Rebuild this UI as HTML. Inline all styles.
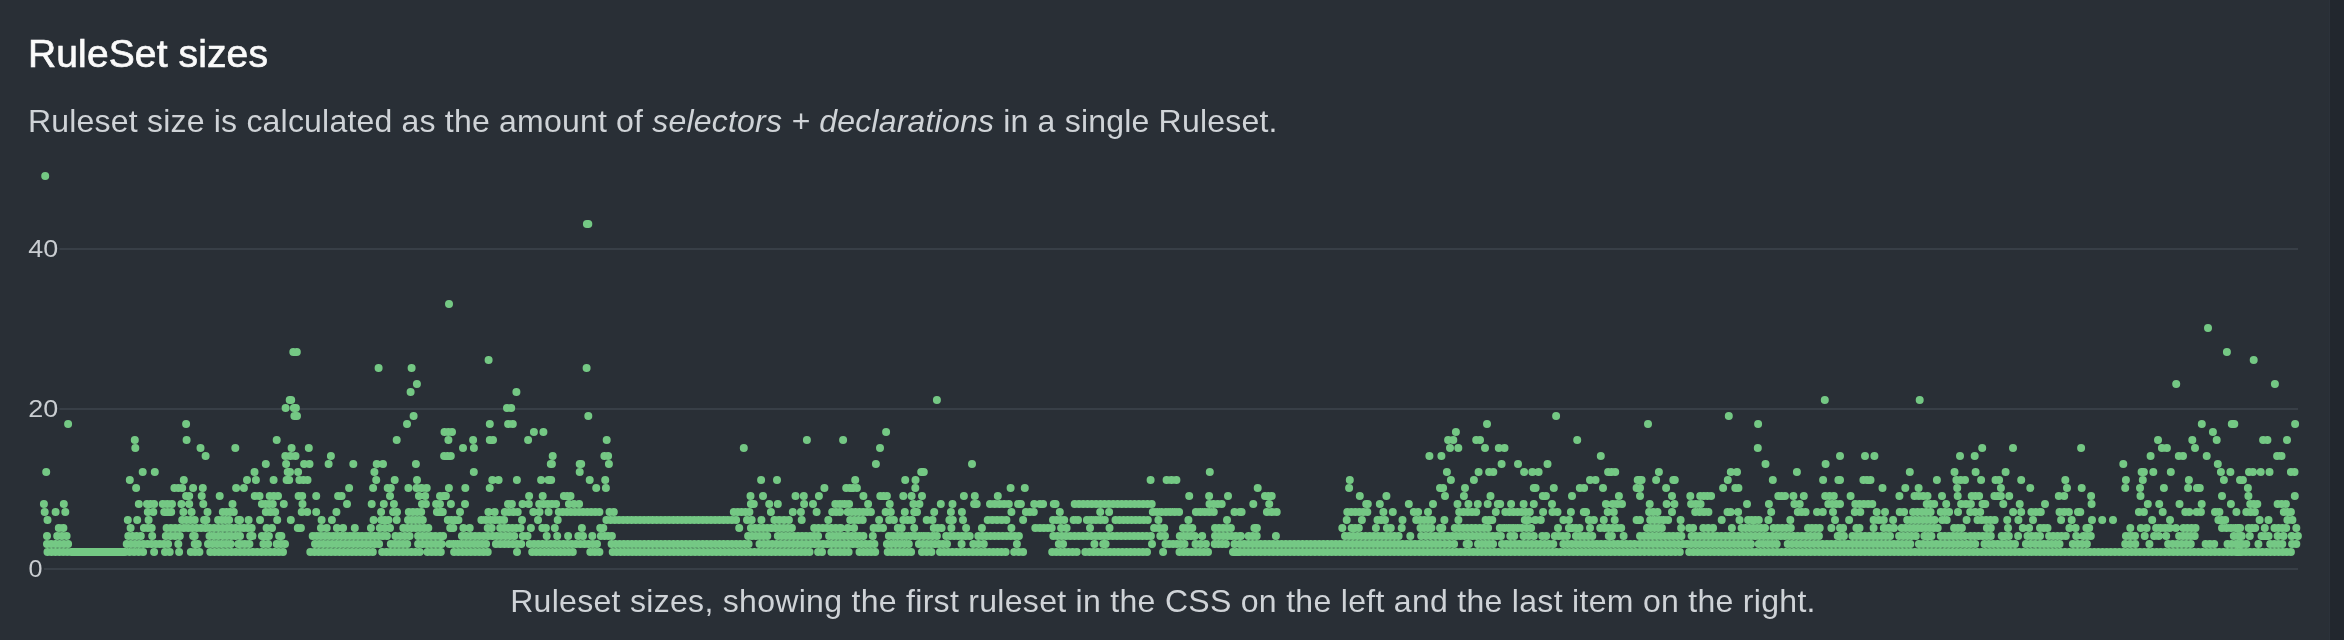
<!DOCTYPE html>
<html><head><meta charset="utf-8"><title>RuleSet sizes</title>
<style>
html,body{margin:0;padding:0;background:#292f36;}
body{width:2344px;height:640px;overflow:hidden;position:relative;font-family:"Liberation Sans",sans-serif;}
h2{position:absolute;left:28px;top:29px;margin:0;font-size:39px;line-height:50px;font-weight:400;color:#fafafa;white-space:nowrap;letter-spacing:0.12px;-webkit-text-stroke:0.7px #fafafa;}
p.desc{position:absolute;left:28px;top:100px;margin:0;font-size:32px;line-height:42px;color:#cfd3d7;white-space:nowrap;letter-spacing:0.2px;}
p.cap{position:absolute;left:28px;width:2270px;top:580px;margin:0;font-size:32px;line-height:42px;color:#cfd3d7;white-space:nowrap;text-align:center;letter-spacing:0.3px;}
svg{position:absolute;left:0;top:0;}
h2,p,svg{will-change:transform;}
.edge{position:absolute;left:2329px;top:0;width:15px;height:640px;background:#22272e;border-left:1px solid #2c323a;box-sizing:border-box;}
svg text{font-family:"Liberation Sans",sans-serif;font-size:24px;fill:#c9cdd1;}
</style></head><body>
<div class="edge"></div>
<h2>RuleSet sizes</h2>
<p class="desc">Ruleset size is calculated as the amount of <i>selectors + declarations</i> in a single Ruleset.</p>
<svg width="2344" height="640" viewBox="0 0 2344 640">
<g fill="#383f47"><rect x="59.5" y="248" width="2238.5" height="2"/><rect x="59.5" y="408" width="2238.5" height="2"/><rect x="44" y="568" width="2254" height="2"/></g>
<text x="28.3" y="256.7" textLength="30" lengthAdjust="spacingAndGlyphs">40</text><text x="28.3" y="416.7" textLength="30" lengthAdjust="spacingAndGlyphs">20</text><text x="28.6" y="576.7" textLength="14" lengthAdjust="spacingAndGlyphs">0</text>
<path fill="none" stroke="#74c884" stroke-width="8" stroke-linecap="round" d="M47.5 552h.01M51.5 552h.01M55.4 552h.01M59.4 552h.01M63.3 552h.01M67.3 552h.01M71.2 552h.01M71.2 552H125.2M125.2 552h.01M129.6 552h.01M134.1 552h.01M138.6 552h.01M143.1 552h.01M154.1 552h.01M165.0 552h.01M169.7 552h.01M179.1 552h.01M190.8 552h.01M195.1 552h.01M199.4 552h.01M210.3 552h.01M214.6 552h.01M218.8 552h.01M223.0 552h.01M227.3 552h.01M231.5 552h.01M235.8 552h.01M240.0 552h.01M47.0 544h.01M51.2 544h.01M55.5 544h.01M59.7 544h.01M63.9 544h.01M68.1 544h.01M126.7 544h.01M130.9 544h.01M135.0 544h.01M139.1 544h.01M143.3 544h.01M147.4 544h.01M151.6 544h.01M155.7 544h.01M159.8 544h.01M164.0 544h.01M168.1 544h.01M178.3 544h.01M194.7 544h.01M197.8 544h.01M208.0 544h.01M212.5 544h.01M217.0 544h.01M221.6 544h.01M226.1 544h.01M230.6 544h.01M238.4 544H240.0M47.0 536h.01M57.2 536h.01M61.9 536h.01M66.6 536h.01M128.3 536h.01M132.4 536h.01M136.6 536h.01M140.8 536h.01M152.2 536h.01M165.8 536h.01M170.5 536h.01M175.2 536h.01M179.8 536h.01M193.1 536H194.7M209.5 536h.01M213.9 536h.01M218.2 536h.01M222.6 536h.01M226.9 536h.01M231.3 536h.01M235.6 536h.01M240.0 536h.01M58.8 528h.01M63.4 528h.01M130.6 528h.01M143.9 528h.01M147.8 528h.01M151.7 528h.01M166.6 528h.01M170.9 528h.01M175.2 528h.01M179.5 528h.01M183.8 528h.01M188.2 528h.01M192.5 528h.01M196.8 528h.01M201.1 528h.01M205.4 528h.01M209.8 528h.01M214.1 528h.01M218.4 528h.01M222.7 528h.01M227.0 528h.01M231.4 528h.01M235.7 528h.01M240.0 528h.01M47.5 520h.01M127.8 520h.01M137.2 520h.01M148.6 520h.01M182.2 520h.01M186.4 520h.01M190.5 520h.01M194.7 520h.01M204.1 520H206.4M218.1 520h.01M221.8 520h.01M225.4 520h.01M229.1 520h.01M238.4 520H240.0M44.7 512h.01M55.6 512h.01M65.3 512h.01M147.8 512h.01M153.3 512h.01M164.2 512h.01M167.7 512h.01M171.2 512h.01M183.4 512h.01M191.6 512h.01M207.5 512h.01M222.8 512h.01M226.5 512h.01M230.1 512h.01M233.8 512h.01M43.9 504h.01M63.8 504h.01M138.8 504h.01M147.0 504h.01M150.5 504h.01M154.1 504h.01M162.7 504h.01M167.3 504h.01M172.0 504h.01M181.4 504h.01M189.2 504h.01M203.3 504h.01M232.5 504h.01M186.1 496h.01M189.2 496h.01M201.7 496h.01M219.7 496h.01M136.1 488h.01M174.4 488h.01M178.3 488h.01M182.2 488h.01M193.1 488h.01M202.8 488h.01M236.1 488h.01M129.8 480h.01M183.8 480h.01M240.0 552h.01M244.3 552h.01M248.6 552h.01M252.9 552h.01M257.2 552h.01M261.5 552h.01M265.8 552h.01M270.1 552h.01M274.4 552h.01M278.7 552h.01M283.0 552h.01M310.3 552h.01M314.5 552h.01M318.6 552h.01M322.8 552h.01M327.0 552h.01M331.1 552h.01M335.3 552h.01M339.5 552h.01M343.6 552h.01M347.8 552h.01M352.0 552h.01M356.1 552h.01M360.3 552h.01M364.5 552h.01M368.6 552h.01M372.8 552h.01M382.2 552h.01M386.4 552h.01M390.5 552h.01M394.7 552h.01M398.9 552h.01M403.0 552h.01M407.2 552h.01M411.4 552h.01M415.5 552h.01M419.7 552h.01M427.5 552h.01M431.7 552h.01M435.8 552h.01M440.0 552h.01M240.0 544h.01M244.7 544h.01M249.4 544h.01M263.4 544h.01M268.1 544h.01M276.7 544h.01M280.9 544h.01M285.0 544h.01M315.0 544h.01M319.3 544h.01M323.5 544h.01M327.8 544h.01M332.1 544h.01M336.4 544h.01M340.6 544h.01M344.9 544h.01M349.2 544h.01M353.4 544h.01M357.7 544h.01M362.0 544h.01M366.2 544h.01M370.5 544h.01M374.8 544h.01M379.1 544h.01M390.8 544h.01M394.9 544h.01M399.0 544h.01M403.1 544h.01M407.2 544h.01M418.1 544h.01M422.5 544h.01M426.9 544h.01M431.2 544h.01M435.6 544h.01M440.0 544h.01M250.2 536H252.5M261.9 536h.01M265.4 536h.01M268.9 536h.01M279.1 536H281.4M312.7 536h.01M316.8 536h.01M320.9 536h.01M325.0 536h.01M329.1 536h.01M333.3 536h.01M337.4 536h.01M341.5 536h.01M345.6 536h.01M349.8 536h.01M353.9 536h.01M358.0 536h.01M362.1 536h.01M366.3 536h.01M370.4 536h.01M374.5 536h.01M378.6 536h.01M382.8 536h.01M386.9 536h.01M395.5 536h.01M400.2 536h.01M404.8 536h.01M409.5 536h.01M418.1 536h.01M422.4 536h.01M426.7 536h.01M431.0 536h.01M435.3 536h.01M440.0 536h.01M240.0 528h.01M243.9 528h.01M247.8 528h.01M251.7 528h.01M266.6 528h.01M272.0 528h.01M297.8 528h.01M300.9 528h.01M320.9 528h.01M326.7 528h.01M336.9 528h.01M343.1 528h.01M354.8 528h.01M370.9 528h.01M379.8 528h.01M384.9 528h.01M390.0 528h.01M403.3 528h.01M407.4 528h.01M411.6 528h.01M415.8 528h.01M419.9 528h.01M424.1 528h.01M428.3 528h.01M240.0 520h.01M248.6 520h.01M260.0 520h.01M277.2 520h.01M290.8 520h.01M321.6 520h.01M331.9 520h.01M373.6 520h.01M381.4 520h.01M384.9 520h.01M388.4 520h.01M396.7 520h.01M408.0 520h.01M411.7 520h.01M415.4 520h.01M419.1 520h.01M422.8 520h.01M265.8 512h.01M270.5 512h.01M275.2 512h.01M301.7 512h.01M307.2 512h.01M316.2 512h.01M336.4 512h.01M381.1 512h.01M393.1 512h.01M397.0 512h.01M408.8 512h.01M412.9 512h.01M417.1 512h.01M421.2 512h.01M436.9 512h.01M440.0 512h.01M261.9 504h.01M265.5 504h.01M269.2 504h.01M272.8 504h.01M283.8 504h.01M302.5 504h.01M347.0 504h.01M371.7 504h.01M383.8 504h.01M393.9 504h.01M422.0 504h.01M425.9 504h.01M436.1 504h.01M440.0 504h.01M254.8 496h.01M259.5 496h.01M269.7 496h.01M273.8 496h.01M278.0 496h.01M298.6 496h.01M302.2 496h.01M316.2 496h.01M338.1 496h.01M341.6 496h.01M390.0 496h.01M418.9 496h.01M425.2 496h.01M440.0 496h.01M243.9 488h.01M349.1 488h.01M373.1 488h.01M387.7 488h.01M390.8 488h.01M408.4 488h.01M416.6 488h.01M421.6 488h.01M426.7 488h.01M247.0 480h.01M255.9 480h.01M273.6 480h.01M286.6 480H289.2M299.4 480h.01M303.4 480h.01M307.5 480h.01M376.2 480h.01M394.7 480h.01M417.0 480h.01M440.0 552H440.8M454.1 552h.01M458.3 552h.01M462.5 552h.01M466.7 552h.01M470.9 552h.01M475.1 552h.01M479.3 552h.01M483.5 552h.01M487.7 552h.01M517.0 552h.01M532.2 552h.01M536.2 552h.01M540.3 552h.01M544.4 552h.01M548.4 552h.01M552.5 552h.01M556.6 552h.01M560.6 552h.01M564.7 552h.01M568.8 552h.01M572.8 552h.01M590.3 552h.01M594.8 552h.01M599.4 552h.01M612.7 552h.01M616.6 552h.01M620.5 552h.01M624.4 552h.01M628.3 552h.01M632.2 552h.01M636.1 552h.01M640.0 552h.01M440.0 544H441.6M449.4 544h.01M453.5 544h.01M457.5 544h.01M461.6 544h.01M465.7 544h.01M469.8 544h.01M473.9 544h.01M477.9 544h.01M482.0 544h.01M486.1 544h.01M495.9 544h.01M500.2 544h.01M504.4 544h.01M508.6 544h.01M512.8 544h.01M517.0 544h.01M521.2 544h.01M529.8 544h.01M534.0 544h.01M538.2 544h.01M542.4 544h.01M546.6 544h.01M550.8 544h.01M555.0 544h.01M559.2 544h.01M563.4 544h.01M567.6 544h.01M571.8 544h.01M576.0 544h.01M580.2 544h.01M584.4 544h.01M588.6 544h.01M592.8 544h.01M597.0 544h.01M611.6 544h.01M615.6 544h.01M619.7 544h.01M623.8 544h.01M627.8 544h.01M631.9 544h.01M635.9 544h.01M640.0 544h.01M440.0 536h.01M443.1 536h.01M461.9 536h.01M466.2 536h.01M470.6 536h.01M475.0 536h.01M479.3 536h.01M483.7 536h.01M488.0 536h.01M492.4 536h.01M496.8 536h.01M501.1 536h.01M505.5 536h.01M509.9 536h.01M514.2 536h.01M522.8 536h.01M527.5 536h.01M546.7 536h.01M557.2 536h.01M568.1 536h.01M578.3 536h.01M583.0 536h.01M592.3 536h.01M600.9 536h.01M604.6 536h.01M608.2 536h.01M611.9 536h.01M450.2 528h.01M453.3 528h.01M463.4 528h.01M469.7 528h.01M487.7 528h.01M491.6 528h.01M500.2 528h.01M504.2 528h.01M508.3 528h.01M512.3 528h.01M516.4 528h.01M520.5 528h.01M530.9 528h.01M542.3 528h.01M545.9 528h.01M554.8 528h.01M581.9 528h.01M600.2 528h.01M603.3 528h.01M447.8 520h.01M451.4 520h.01M454.9 520h.01M458.4 520h.01M481.4 520h.01M485.9 520h.01M490.5 520h.01M495.0 520h.01M499.5 520h.01M504.1 520h.01M522.0 520h.01M538.0 520h.01M557.7 520h.01M606.4 520h.01M610.6 520h.01M614.8 520h.01M619.0 520h.01M623.2 520h.01M627.4 520h.01M631.6 520h.01M635.8 520h.01M640.0 520h.01M440.0 512H442.8M460.0 512h.01M488.4 512h.01M494.7 512h.01M504.8 512h.01M509.1 512h.01M513.4 512h.01M517.7 512h.01M533.3 512h.01M539.5 512h.01M548.6 512h.01M558.8 512h.01M562.8 512h.01M566.9 512h.01M570.9 512h.01M575.0 512h.01M579.1 512h.01M583.1 512h.01M587.2 512h.01M591.2 512h.01M595.3 512h.01M599.4 512h.01M609.5 512h.01M613.8 512h.01M440.0 504h.01M450.9 504h.01M465.0 504h.01M508.0 504h.01M511.9 504h.01M522.5 504h.01M528.8 504h.01M539.2 504h.01M543.4 504h.01M547.7 504h.01M551.9 504h.01M556.1 504h.01M568.9 504h.01M574.0 504h.01M579.1 504h.01M443.1 496H445.9M529.1 496h.01M542.7 496h.01M563.9 496h.01M567.2 496h.01M570.5 496h.01M448.9 488h.01M465.3 488h.01M489.7 488h.01M596.2 488h.01M605.9 488h.01M492.3 480h.01M498.6 480h.01M516.9 480h.01M541.1 480h.01M548.6 480H551.2M589.7 480h.01M605.2 480h.01M640.0 552h.01M644.2 552h.01M648.5 552h.01M652.7 552h.01M657.0 552h.01M661.2 552h.01M665.4 552h.01M669.7 552h.01M673.9 552h.01M678.1 552h.01M682.4 552h.01M686.6 552h.01M690.9 552h.01M695.1 552h.01M699.3 552h.01M703.6 552h.01M707.8 552h.01M712.1 552h.01M716.3 552h.01M720.5 552h.01M724.8 552h.01M729.0 552h.01M733.2 552h.01M737.5 552h.01M741.7 552h.01M746.0 552h.01M750.2 552h.01M754.4 552h.01M758.7 552h.01M762.9 552h.01M767.1 552h.01M771.4 552h.01M775.6 552h.01M779.9 552h.01M784.1 552h.01M788.3 552h.01M792.6 552h.01M796.8 552h.01M801.1 552h.01M805.3 552h.01M809.5 552h.01M818.1 552h.01M822.0 552h.01M831.4 552h.01M835.7 552h.01M840.0 552h.01M640.0 544h.01M644.2 544h.01M648.4 544h.01M652.5 544h.01M656.7 544h.01M660.9 544h.01M665.1 544h.01M669.2 544h.01M673.4 544h.01M677.6 544h.01M681.8 544h.01M685.9 544h.01M690.1 544h.01M694.3 544h.01M698.5 544h.01M702.7 544h.01M706.8 544h.01M711.0 544h.01M715.2 544h.01M719.4 544h.01M723.5 544h.01M727.7 544h.01M731.9 544h.01M736.1 544h.01M740.2 544h.01M744.4 544h.01M748.6 544h.01M759.5 544h.01M763.8 544h.01M768.0 544h.01M772.2 544h.01M776.5 544h.01M780.7 544h.01M784.9 544h.01M789.2 544h.01M793.4 544h.01M797.6 544h.01M801.9 544h.01M806.1 544h.01M810.4 544h.01M814.6 544h.01M818.8 544h.01M823.1 544h.01M827.3 544h.01M831.5 544h.01M835.8 544h.01M840.0 544h.01M748.1 536h.01M752.0 536h.01M755.8 536h.01M759.7 536h.01M763.5 536h.01M767.3 536h.01M777.8 536h.01M781.8 536h.01M785.9 536h.01M789.9 536h.01M793.9 536h.01M798.0 536h.01M802.0 536h.01M806.0 536h.01M810.1 536h.01M814.1 536h.01M818.1 536h.01M829.1 536h.01M832.7 536h.01M836.4 536h.01M840.0 536h.01M739.2 528h.01M750.9 528h.01M755.0 528h.01M759.1 528h.01M763.2 528h.01M767.3 528h.01M771.4 528h.01M775.5 528h.01M779.6 528h.01M783.7 528h.01M787.8 528h.01M791.9 528h.01M814.2 528h.01M818.5 528h.01M822.8 528h.01M827.1 528h.01M831.4 528h.01M835.7 528h.01M840.0 528h.01M640.0 520h.01M644.2 520h.01M648.4 520h.01M652.5 520h.01M656.7 520h.01M660.9 520h.01M665.1 520h.01M669.2 520h.01M673.4 520h.01M677.6 520h.01M681.8 520h.01M686.0 520h.01M690.1 520h.01M694.3 520h.01M698.5 520h.01M702.7 520h.01M706.8 520h.01M711.0 520h.01M715.2 520h.01M719.4 520h.01M723.6 520h.01M727.7 520h.01M731.9 520h.01M736.1 520h.01M747.0 520h.01M751.7 520h.01M761.4 520h.01M774.4 520h.01M779.2 520h.01M784.1 520h.01M788.9 520h.01M801.7 520h.01M828.3 520h.01M733.8 512h.01M737.7 512h.01M741.6 512h.01M745.5 512h.01M749.4 512h.01M770.9 512h.01M792.8 512h.01M800.9 512h.01M816.6 512h.01M832.2 512h.01M836.1 512h.01M840.0 512h.01M750.9 504H753.8M769.2 504h.01M777.8 504h.01M804.1 504h.01M813.0 504h.01M835.3 504h.01M840.0 504h.01M750.5 496h.01M763.0 496h.01M795.5 496h.01M803.8 496h.01M818.9 496h.01M824.4 488h.01M761.1 480h.01M777.0 480h.01M840.0 552h.01M844.3 552h.01M848.6 552h.01M859.5 552h.01M863.4 552h.01M867.3 552h.01M871.2 552h.01M875.2 552h.01M887.7 552h.01M891.6 552h.01M895.5 552h.01M899.4 552h.01M903.3 552h.01M907.2 552h.01M911.1 552h.01M922.0 552h.01M926.7 552h.01M931.4 552h.01M940.0 552h.01M944.1 552h.01M948.2 552h.01M952.3 552h.01M956.4 552h.01M960.5 552h.01M964.6 552h.01M968.7 552h.01M972.8 552h.01M976.9 552h.01M981.0 552h.01M985.1 552h.01M989.2 552h.01M993.3 552h.01M997.4 552h.01M1001.5 552h.01M1005.6 552h.01M1014.2 552h.01M1018.7 552h.01M1023.1 552h.01M840.0 544h.01M844.3 544h.01M848.6 544h.01M852.9 544h.01M857.2 544h.01M861.5 544h.01M865.8 544h.01M870.1 544h.01M874.4 544h.01M886.9 544h.01M891.2 544h.01M895.6 544h.01M900.0 544h.01M904.4 544h.01M908.8 544h.01M918.9 544h.01M922.9 544h.01M926.9 544h.01M931.0 544h.01M935.0 544h.01M939.0 544h.01M943.0 544h.01M947.0 544h.01M961.6 544h.01M973.3 544h.01M978.5 544h.01M983.8 544h.01M1016.9 544h.01M840.0 536h.01M843.9 536h.01M847.8 536h.01M851.7 536h.01M855.6 536h.01M859.5 536h.01M863.4 536h.01M872.8 536h.01M888.9 536h.01M893.3 536h.01M897.6 536h.01M902.0 536h.01M906.3 536h.01M910.7 536h.01M915.1 536h.01M919.4 536h.01M923.8 536h.01M928.2 536h.01M932.5 536h.01M936.9 536h.01M946.2 536h.01M950.2 536h.01M954.1 536h.01M958.0 536h.01M961.9 536h.01M965.8 536h.01M969.7 536h.01M978.3 536h.01M982.3 536h.01M986.4 536h.01M990.5 536h.01M994.5 536h.01M998.6 536h.01M1002.7 536h.01M1006.7 536h.01M1010.8 536h.01M1014.8 536h.01M1018.9 536h.01M840.0 528H840.8M847.8 528h.01M854.1 528h.01M873.6 528h.01M878.3 528h.01M883.0 528h.01M897.8 528h.01M901.7 528h.01M914.2 528h.01M933.8 528h.01M937.7 528h.01M941.6 528h.01M951.4 528h.01M966.1 528h.01M981.9 528h.01M1011.4 528h.01M1035.3 528h.01M1040.0 528h.01M850.2 520h.01M854.3 520h.01M858.5 520h.01M862.7 520h.01M879.1 520h.01M889.2 520h.01M893.9 520h.01M903.3 520h.01M907.6 520h.01M911.9 520h.01M926.7 520h.01M932.5 520h.01M949.4 520h.01M952.8 520h.01M963.0 520h.01M987.7 520h.01M992.3 520h.01M997.0 520h.01M1001.7 520h.01M1006.4 520h.01M1023.1 520h.01M840.0 512h.01M847.8 512h.01M851.7 512h.01M855.5 512h.01M859.4 512h.01M863.2 512h.01M867.1 512h.01M870.9 512h.01M885.6 512h.01M890.8 512h.01M904.8 512h.01M914.2 512H917.0M934.2 512h.01M950.9 512h.01M961.9 512h.01M1011.4 512h.01M1025.9 512h.01M1029.8 512h.01M1033.8 512h.01M840.0 504h.01M844.5 504h.01M849.1 504h.01M868.1 504h.01M889.7 504h.01M913.4 504h.01M919.4 504h.01M940.8 504h.01M952.5 504h.01M974.1 504H976.7M990.0 504h.01M994.7 504h.01M999.4 504h.01M1004.1 504h.01M1008.8 504h.01M1018.1 504H1020.9M1034.2 504h.01M1040.0 504h.01M863.4 496h.01M880.3 496h.01M883.6 496h.01M886.9 496h.01M903.3 496h.01M911.6 496h.01M922.0 496h.01M963.9 496h.01M974.8 496h.01M997.8 496h.01M846.2 488h.01M849.8 488h.01M853.3 488h.01M856.9 488h.01M915.3 488h.01M1010.6 488h.01M1024.8 488h.01M855.2 480h.01M905.2 480h.01M915.5 480h.01M1052.2 552h.01M1056.3 552h.01M1060.4 552h.01M1064.5 552h.01M1068.5 552h.01M1072.6 552h.01M1076.7 552h.01M1085.3 552h.01M1089.4 552h.01M1093.5 552h.01M1097.7 552h.01M1101.8 552h.01M1105.9 552h.01M1110.0 552h.01M1114.1 552h.01M1118.2 552h.01M1122.3 552h.01M1126.5 552h.01M1130.6 552h.01M1134.7 552h.01M1138.8 552h.01M1142.9 552h.01M1147.0 552h.01M1163.1 552h.01M1179.5 552h.01M1183.6 552h.01M1187.7 552h.01M1191.7 552h.01M1195.8 552h.01M1199.8 552h.01M1203.9 552h.01M1208.0 552h.01M1233.0 552h.01M1236.5 552h.01M1240.0 552h.01M1058.8 544h.01M1063.1 544h.01M1094.4 544h.01M1103.3 544H1105.6M1152.0 544h.01M1165.5 544h.01M1169.3 544h.01M1173.1 544h.01M1176.9 544h.01M1180.7 544h.01M1184.5 544h.01M1195.5 544h.01M1200.7 544h.01M1205.9 544h.01M1214.7 544h.01M1218.4 544h.01M1222.2 544h.01M1225.9 544h.01M1234.5 544h.01M1240.0 544h.01M1053.3 536h.01M1057.5 536h.01M1061.8 536h.01M1066.0 536h.01M1070.3 536h.01M1074.5 536h.01M1078.8 536h.01M1083.0 536h.01M1087.2 536h.01M1091.5 536h.01M1095.7 536h.01M1100.0 536h.01M1104.2 536h.01M1108.5 536h.01M1112.7 536h.01M1117.0 536h.01M1121.2 536h.01M1125.5 536h.01M1129.7 536h.01M1134.0 536h.01M1138.2 536h.01M1142.4 536h.01M1146.7 536h.01M1150.9 536h.01M1160.3 536h.01M1165.0 536h.01M1179.8 536h.01M1183.6 536h.01M1187.3 536h.01M1191.0 536h.01M1194.7 536h.01M1202.2 536h.01M1215.0 536h.01M1219.2 536h.01M1223.3 536h.01M1227.5 536h.01M1231.7 536h.01M1235.8 536h.01M1240.0 536h.01M1040.0 528h.01M1043.9 528h.01M1047.8 528h.01M1051.7 528h.01M1061.1 528h.01M1066.6 528h.01M1090.0 528h.01M1109.5 528h.01M1154.1 528h.01M1159.1 528h.01M1164.2 528h.01M1183.0 528h.01M1187.7 528h.01M1192.3 528h.01M1215.0 528h.01M1219.0 528h.01M1223.0 528h.01M1227.0 528h.01M1230.9 528h.01M1053.0 520h.01M1056.7 520h.01M1060.5 520h.01M1064.2 520h.01M1073.6 520h.01M1078.0 520h.01M1086.9 520h.01M1091.4 520h.01M1095.9 520h.01M1100.4 520h.01M1104.8 520h.01M1115.5 520h.01M1119.5 520h.01M1123.6 520h.01M1127.6 520h.01M1131.6 520h.01M1135.7 520h.01M1139.7 520h.01M1143.8 520h.01M1147.8 520h.01M1158.4 520h.01M1188.4 520h.01M1227.0 520h.01M1059.8 512h.01M1100.2 512h.01M1109.1 512h.01M1152.8 512h.01M1157.2 512h.01M1161.6 512h.01M1165.9 512h.01M1170.3 512h.01M1174.7 512h.01M1179.1 512h.01M1195.9 512h.01M1200.4 512h.01M1204.8 512h.01M1209.3 512h.01M1213.8 512h.01M1234.5 512h.01M1240.0 512h.01M1043.1 504h.01M1053.8 504H1055.6M1074.7 504h.01M1079.0 504h.01M1083.2 504h.01M1087.5 504h.01M1091.8 504h.01M1096.1 504h.01M1100.4 504h.01M1104.6 504h.01M1108.9 504h.01M1113.2 504h.01M1117.5 504h.01M1121.8 504h.01M1126.0 504h.01M1130.3 504h.01M1134.6 504h.01M1138.9 504h.01M1143.2 504h.01M1147.4 504h.01M1151.7 504h.01M1209.5 504h.01M1213.6 504h.01M1217.7 504h.01M1221.7 504h.01M1189.2 496h.01M1209.1 496h.01M1228.0 496h.01M1150.6 480h.01M1166.6 480h.01M1171.5 480h.01M1176.4 480h.01M1240.0 552h.01M1244.2 552h.01M1248.3 552h.01M1252.5 552h.01M1256.7 552h.01M1260.8 552h.01M1265.0 552h.01M1269.2 552h.01M1273.3 552h.01M1277.5 552h.01M1281.7 552h.01M1285.8 552h.01M1290.0 552h.01M1294.2 552h.01M1298.3 552h.01M1302.5 552h.01M1306.7 552h.01M1310.8 552h.01M1315.0 552h.01M1319.2 552h.01M1323.3 552h.01M1327.5 552h.01M1331.7 552h.01M1335.8 552h.01M1340.0 552h.01M1344.2 552h.01M1348.3 552h.01M1352.5 552h.01M1356.7 552h.01M1360.8 552h.01M1365.0 552h.01M1369.2 552h.01M1373.3 552h.01M1377.5 552h.01M1381.7 552h.01M1385.8 552h.01M1390.0 552h.01M1394.2 552h.01M1398.3 552h.01M1402.5 552h.01M1406.7 552h.01M1410.8 552h.01M1415.0 552h.01M1419.2 552h.01M1423.3 552h.01M1427.5 552h.01M1431.7 552h.01M1435.8 552h.01M1440.0 552h.01M1240.0 544h.01M1244.2 544h.01M1248.3 544h.01M1252.5 544h.01M1256.7 544h.01M1260.8 544h.01M1265.0 544h.01M1269.2 544h.01M1273.3 544h.01M1277.5 544h.01M1281.7 544h.01M1285.8 544h.01M1290.0 544h.01M1294.2 544h.01M1298.3 544h.01M1302.5 544h.01M1306.7 544h.01M1310.8 544h.01M1315.0 544h.01M1319.2 544h.01M1323.3 544h.01M1327.5 544h.01M1331.7 544h.01M1335.8 544h.01M1340.0 544h.01M1344.2 544h.01M1348.3 544h.01M1352.5 544h.01M1356.7 544h.01M1360.8 544h.01M1365.0 544h.01M1369.2 544h.01M1373.3 544h.01M1377.5 544h.01M1381.7 544h.01M1385.8 544h.01M1390.0 544h.01M1394.2 544h.01M1398.3 544h.01M1402.5 544h.01M1406.7 544h.01M1410.8 544h.01M1415.0 544h.01M1419.2 544h.01M1423.3 544h.01M1427.5 544h.01M1431.7 544h.01M1435.8 544h.01M1440.0 544h.01M1240.0 536H1240.8M1248.6 536h.01M1252.7 536h.01M1256.7 536h.01M1275.9 536h.01M1345.0 536h.01M1349.1 536h.01M1353.2 536h.01M1357.4 536h.01M1361.5 536h.01M1365.6 536h.01M1369.7 536h.01M1373.9 536h.01M1378.0 536h.01M1382.1 536h.01M1386.2 536h.01M1390.3 536h.01M1394.5 536h.01M1398.6 536h.01M1410.3 536h.01M1421.2 536h.01M1425.9 536h.01M1430.6 536h.01M1435.3 536h.01M1440.0 536h.01M1254.4 528H1256.9M1342.3 528h.01M1351.7 528h.01M1355.2 528h.01M1358.8 528h.01M1375.9 528h.01M1386.9 528h.01M1390.8 528h.01M1401.7 528h.01M1420.5 528h.01M1424.1 528h.01M1427.8 528h.01M1431.4 528h.01M1440.0 528h.01M1346.7 520h.01M1361.9 520h.01M1377.5 520h.01M1381.2 520h.01M1385.0 520h.01M1402.5 520h.01M1416.2 520h.01M1420.2 520h.01M1424.2 520h.01M1428.2 520h.01M1432.2 520h.01M1241.6 512h.01M1266.9 512h.01M1271.8 512h.01M1276.7 512h.01M1347.3 512h.01M1351.3 512h.01M1355.3 512h.01M1359.3 512h.01M1363.3 512h.01M1367.3 512h.01M1383.4 512h.01M1392.8 512h.01M1413.8 512h.01M1418.1 512h.01M1428.0 512h.01M1253.3 504h.01M1269.2 504h.01M1366.2 504H1367.8M1379.8 504h.01M1408.8 504h.01M1433.0 504h.01M1265.0 496h.01M1268.4 496h.01M1271.7 496h.01M1359.8 496h.01M1386.4 496h.01M1257.7 488h.01M1349.1 488h.01M1440.0 488h.01M1349.8 480h.01M1440.0 552h.01M1444.2 552h.01M1448.3 552h.01M1452.5 552h.01M1456.7 552h.01M1460.8 552h.01M1465.0 552h.01M1469.2 552h.01M1473.3 552h.01M1477.5 552h.01M1481.7 552h.01M1485.8 552h.01M1490.0 552h.01M1494.2 552h.01M1498.3 552h.01M1502.5 552h.01M1506.7 552h.01M1510.8 552h.01M1515.0 552h.01M1519.2 552h.01M1523.3 552h.01M1527.5 552h.01M1531.7 552h.01M1535.8 552h.01M1540.0 552h.01M1544.2 552h.01M1548.3 552h.01M1552.5 552h.01M1556.7 552h.01M1560.8 552h.01M1565.0 552h.01M1569.2 552h.01M1573.3 552h.01M1577.5 552h.01M1581.7 552h.01M1585.8 552h.01M1590.0 552h.01M1594.2 552h.01M1598.3 552h.01M1602.5 552h.01M1606.7 552h.01M1610.8 552h.01M1615.0 552h.01M1619.2 552h.01M1623.3 552h.01M1627.5 552h.01M1631.7 552h.01M1635.8 552h.01M1640.0 552h.01M1440.0 544h.01M1444.7 544h.01M1449.4 544h.01M1454.1 544h.01M1466.6 544H1468.9M1478.0 544h.01M1481.8 544h.01M1485.5 544h.01M1489.3 544h.01M1493.1 544h.01M1502.0 544h.01M1506.3 544h.01M1510.6 544h.01M1514.8 544h.01M1519.1 544h.01M1523.4 544h.01M1527.7 544h.01M1531.9 544h.01M1536.2 544h.01M1540.5 544h.01M1544.7 544h.01M1549.0 544h.01M1553.3 544h.01M1563.4 544h.01M1567.6 544h.01M1571.8 544h.01M1576.0 544h.01M1580.2 544h.01M1584.3 544h.01M1588.5 544h.01M1592.7 544h.01M1596.9 544h.01M1601.1 544h.01M1605.3 544h.01M1609.4 544h.01M1613.6 544h.01M1617.8 544h.01M1622.0 544h.01M1626.2 544h.01M1630.3 544h.01M1634.5 544h.01M1440.0 536h.01M1444.1 536h.01M1448.1 536h.01M1452.2 536h.01M1456.2 536h.01M1460.3 536h.01M1464.4 536h.01M1468.4 536h.01M1472.5 536h.01M1476.6 536h.01M1480.6 536h.01M1484.7 536h.01M1488.8 536h.01M1492.8 536h.01M1496.9 536h.01M1500.9 536h.01M1510.3 536h.01M1514.2 536h.01M1523.6 536h.01M1528.7 536h.01M1533.8 536h.01M1542.3 536h.01M1546.2 536h.01M1554.8 536h.01M1558.9 536h.01M1562.9 536h.01M1566.9 536h.01M1575.9 536h.01M1580.0 536h.01M1584.1 536h.01M1588.2 536h.01M1592.3 536h.01M1608.8 536h.01M1611.9 536h.01M1623.6 536h.01M1640.0 536h.01M1440.0 528H1442.3M1454.8 528h.01M1459.0 528h.01M1463.2 528h.01M1467.3 528h.01M1471.5 528h.01M1475.6 528h.01M1479.8 528h.01M1484.0 528h.01M1488.1 528h.01M1499.8 528h.01M1504.3 528h.01M1508.8 528h.01M1513.2 528h.01M1517.7 528h.01M1522.2 528h.01M1526.6 528h.01M1531.1 528h.01M1558.0 528h.01M1568.9 528h.01M1572.4 528h.01M1576.0 528h.01M1579.5 528h.01M1590.0 528h.01M1600.2 528h.01M1604.4 528h.01M1608.6 528h.01M1612.8 528h.01M1617.0 528h.01M1621.2 528h.01M1444.4 520h.01M1458.4 520h.01M1485.6 520h.01M1489.0 520h.01M1492.3 520h.01M1524.8 520h.01M1528.3 520h.01M1535.3 520h.01M1540.8 520h.01M1563.4 520h.01M1568.9 520h.01M1588.9 520h.01M1593.9 520h.01M1603.8 520h.01M1614.7 520h.01M1636.6 520h.01M1640.0 520h.01M1459.2 512h.01M1463.5 512h.01M1467.7 512h.01M1472.0 512h.01M1476.2 512h.01M1495.8 512h.01M1505.3 512h.01M1509.4 512h.01M1513.5 512h.01M1517.6 512h.01M1521.7 512h.01M1525.8 512h.01M1529.8 512h.01M1543.1 512h.01M1552.5 512h.01M1557.5 512h.01M1570.9 512h.01M1583.8 512H1586.1M1607.7 512h.01M1613.8 512h.01M1457.5 504h.01M1468.4 504h.01M1477.8 504h.01M1487.7 504h.01M1497.8 504H1500.2M1511.1 504h.01M1523.6 504h.01M1533.8 504h.01M1552.0 504h.01M1605.9 504h.01M1612.7 504h.01M1617.3 504h.01M1622.0 504h.01M1445.0 496h.01M1463.9 496h.01M1490.5 496h.01M1542.8 496h.01M1545.9 496h.01M1572.0 496h.01M1618.9 496h.01M1640.0 496h.01M1440.0 488h.01M1443.1 488h.01M1465.0 488h.01M1533.8 488H1535.6M1553.8 488h.01M1579.8 488h.01M1584.1 488h.01M1603.0 488h.01M1636.6 488h.01M1640.0 488h.01M1450.9 480h.01M1473.9 480h.01M1590.0 480h.01M1595.5 480h.01M1637.7 480H1640.0M1640.0 552h.01M1644.4 552h.01M1648.9 552h.01M1653.3 552h.01M1657.7 552h.01M1662.1 552h.01M1666.6 552h.01M1671.0 552h.01M1675.4 552h.01M1679.8 552h.01M1689.2 552h.01M1693.4 552h.01M1697.6 552h.01M1701.8 552h.01M1706.0 552h.01M1710.2 552h.01M1714.3 552h.01M1718.5 552h.01M1722.7 552h.01M1726.9 552h.01M1731.1 552h.01M1735.3 552h.01M1739.5 552h.01M1743.7 552h.01M1747.9 552h.01M1752.0 552h.01M1756.2 552h.01M1760.4 552h.01M1764.6 552h.01M1768.8 552h.01M1773.0 552h.01M1777.2 552h.01M1781.4 552h.01M1785.6 552h.01M1789.7 552h.01M1793.9 552h.01M1798.1 552h.01M1802.3 552h.01M1806.5 552h.01M1810.7 552h.01M1814.9 552h.01M1819.1 552h.01M1823.2 552h.01M1827.4 552h.01M1831.6 552h.01M1835.8 552h.01M1840.0 552h.01M1640.0 544h.01M1644.3 544h.01M1648.5 544h.01M1652.8 544h.01M1657.1 544h.01M1661.3 544h.01M1665.6 544h.01M1669.9 544h.01M1674.1 544h.01M1678.4 544h.01M1682.7 544h.01M1686.9 544h.01M1691.2 544h.01M1695.5 544h.01M1699.7 544h.01M1704.0 544h.01M1708.3 544h.01M1712.5 544h.01M1716.8 544h.01M1721.1 544h.01M1725.3 544h.01M1729.6 544h.01M1733.9 544h.01M1738.1 544h.01M1742.4 544h.01M1746.7 544h.01M1750.9 544h.01M1758.8 544h.01M1763.2 544h.01M1767.7 544h.01M1772.2 544h.01M1776.7 544h.01M1787.7 544h.01M1792.0 544h.01M1796.4 544h.01M1800.7 544h.01M1805.1 544h.01M1809.5 544h.01M1813.8 544h.01M1818.2 544h.01M1822.6 544h.01M1826.9 544h.01M1831.3 544h.01M1835.6 544h.01M1840.0 544h.01M1640.0 536h.01M1644.1 536h.01M1648.3 536h.01M1652.4 536h.01M1656.6 536h.01M1660.7 536h.01M1664.8 536h.01M1669.0 536h.01M1673.1 536h.01M1677.3 536h.01M1681.4 536h.01M1691.6 536h.01M1695.8 536h.01M1700.1 536h.01M1704.3 536h.01M1708.5 536h.01M1712.8 536h.01M1717.0 536h.01M1721.3 536h.01M1725.5 536h.01M1729.8 536h.01M1734.0 536h.01M1738.3 536h.01M1742.5 536h.01M1746.7 536h.01M1751.0 536h.01M1755.2 536h.01M1759.5 536h.01M1763.7 536h.01M1768.0 536h.01M1772.2 536h.01M1776.5 536h.01M1780.7 536h.01M1784.9 536h.01M1789.2 536h.01M1793.4 536h.01M1797.7 536h.01M1801.9 536h.01M1806.2 536h.01M1810.4 536h.01M1814.7 536h.01M1818.9 536h.01M1837.7 536H1840.0M1647.0 528h.01M1650.7 528h.01M1654.5 528h.01M1658.2 528h.01M1661.9 528h.01M1681.1 528h.01M1689.2 528h.01M1693.1 528h.01M1703.3 528h.01M1708.2 528h.01M1713.1 528h.01M1731.9 528h.01M1741.6 528h.01M1745.5 528h.01M1749.4 528h.01M1753.3 528h.01M1757.2 528h.01M1761.1 528h.01M1765.0 528h.01M1773.6 528h.01M1777.9 528h.01M1782.2 528h.01M1786.5 528h.01M1790.8 528h.01M1808.0 528h.01M1811.9 528h.01M1815.8 528h.01M1819.7 528h.01M1831.4 528h.01M1840.0 528h.01M1640.0 520h.01M1650.2 520h.01M1654.6 520h.01M1659.1 520h.01M1663.6 520h.01M1668.1 520h.01M1680.6 520h.01M1721.7 520h.01M1739.5 520h.01M1748.1 520h.01M1751.7 520h.01M1755.2 520h.01M1758.8 520h.01M1768.4 520h.01M1790.3 520h.01M1835.0 520h.01M1649.1 512h.01M1653.3 512h.01M1657.5 512h.01M1672.0 512h.01M1695.2 512h.01M1699.6 512h.01M1704.0 512h.01M1708.4 512h.01M1727.5 512h.01M1730.6 512h.01M1738.1 512h.01M1771.2 512h.01M1797.8 512h.01M1801.7 512h.01M1805.6 512h.01M1817.0 512h.01M1822.8 512h.01M1833.0 512h.01M1649.7 504h.01M1666.6 504h.01M1674.4 504h.01M1691.1 504h.01M1695.9 504h.01M1700.6 504h.01M1747.0 504h.01M1768.9 504h.01M1794.4 504h.01M1799.7 504h.01M1828.3 504h.01M1832.2 504h.01M1836.1 504h.01M1840.0 504h.01M1640.0 496h.01M1672.0 496h.01M1690.3 496h.01M1700.2 496h.01M1703.8 496h.01M1707.4 496h.01M1711.1 496h.01M1778.3 496h.01M1781.6 496h.01M1785.0 496h.01M1793.4 496h.01M1803.8 496h.01M1825.2 496h.01M1829.5 496h.01M1833.8 496h.01M1640.0 488h.01M1666.1 488h.01M1723.1 488h.01M1735.3 488h.01M1738.4 488h.01M1641.6 480h.01M1656.1 480h.01M1673.3 480H1674.8M1727.8 480h.01M1772.8 480h.01M1823.1 480h.01M1838.4 480h.01M1840.0 552h.01M1844.2 552h.01M1848.3 552h.01M1852.5 552h.01M1856.7 552h.01M1860.8 552h.01M1865.0 552h.01M1869.2 552h.01M1873.3 552h.01M1877.5 552h.01M1881.7 552h.01M1885.8 552h.01M1890.0 552h.01M1894.2 552h.01M1898.3 552h.01M1902.5 552h.01M1906.7 552h.01M1910.8 552h.01M1915.0 552h.01M1919.2 552h.01M1923.3 552h.01M1927.5 552h.01M1931.7 552h.01M1935.8 552h.01M1940.0 552h.01M1944.2 552h.01M1948.3 552h.01M1952.5 552h.01M1956.7 552h.01M1960.8 552h.01M1965.0 552h.01M1969.2 552h.01M1973.3 552h.01M1977.5 552h.01M1981.7 552h.01M1985.8 552h.01M1990.0 552h.01M1994.2 552h.01M1998.3 552h.01M2002.5 552h.01M2006.7 552h.01M2010.8 552h.01M2015.0 552h.01M2019.2 552h.01M2023.3 552h.01M2027.5 552h.01M2031.7 552h.01M2035.8 552h.01M2040.0 552h.01M1840.0 544h.01M1844.1 544h.01M1848.3 544h.01M1852.4 544h.01M1856.5 544h.01M1860.7 544h.01M1864.8 544h.01M1869.0 544h.01M1873.1 544h.01M1877.2 544h.01M1881.4 544h.01M1885.5 544h.01M1889.6 544h.01M1893.8 544h.01M1897.9 544h.01M1902.0 544h.01M1906.2 544h.01M1910.3 544h.01M1918.9 544h.01M1923.2 544h.01M1927.6 544h.01M1931.9 544h.01M1936.2 544h.01M1940.5 544h.01M1944.9 544h.01M1949.2 544h.01M1953.5 544h.01M1957.8 544h.01M1962.2 544h.01M1966.5 544h.01M1970.8 544h.01M1975.2 544h.01M1984.5 544h.01M1988.9 544h.01M1993.2 544h.01M1997.6 544h.01M2001.9 544h.01M2006.3 544h.01M2010.6 544h.01M2015.0 544h.01M2025.9 544h.01M2030.6 544h.01M2035.3 544h.01M2040.0 544h.01M1840.0 536h.01M1843.9 536h.01M1852.5 536h.01M1856.7 536h.01M1860.8 536h.01M1865.0 536h.01M1869.2 536h.01M1873.3 536h.01M1877.5 536h.01M1881.7 536h.01M1885.8 536h.01M1890.0 536h.01M1899.1 536h.01M1903.2 536h.01M1907.4 536h.01M1911.6 536h.01M1915.8 536h.01M1924.4 536h.01M1927.9 536h.01M1931.4 536h.01M1940.8 536h.01M1944.8 536h.01M1948.9 536h.01M1952.9 536h.01M1956.9 536h.01M1961.0 536h.01M1965.0 536h.01M1970.5 536h.01M1974.5 536h.01M1978.6 536h.01M1982.7 536h.01M1986.7 536h.01M1990.8 536h.01M2001.7 536h.01M2005.2 536h.01M2008.8 536h.01M2018.1 536h.01M2027.5 536h.01M2031.7 536h.01M2035.8 536h.01M2040.0 536h.01M1840.0 528h.01M1843.1 528h.01M1856.4 528h.01M1859.5 528h.01M1873.6 528h.01M1883.8 528h.01M1888.8 528h.01M1893.9 528h.01M1901.7 528h.01M1905.7 528h.01M1909.7 528h.01M1913.7 528h.01M1917.7 528h.01M1921.7 528h.01M1925.7 528h.01M1929.7 528h.01M1933.7 528h.01M1937.7 528h.01M1954.1 528h.01M1958.0 528h.01M1961.9 528h.01M1986.9 528h.01M1990.8 528h.01M2008.0 528h.01M2022.8 528h.01M2029.1 528h.01M2040.0 528h.01M1849.1 520h.01M1873.6 520h.01M1878.7 520h.01M1883.8 520h.01M1893.1 520h.01M1907.2 520h.01M1911.1 520h.01M1915.0 520h.01M1918.9 520h.01M1922.8 520h.01M1926.7 520h.01M1930.6 520h.01M1934.5 520h.01M1942.3 520h.01M1946.7 520h.01M1966.6 520h.01M1977.5 520h.01M1981.8 520h.01M1986.1 520h.01M1990.4 520h.01M1994.7 520h.01M2007.2 520h.01M2018.4 520h.01M2033.0 520h.01M1854.8 512h.01M1860.3 512h.01M1876.7 512h.01M1885.0 512h.01M1899.7 512h.01M1904.1 512h.01M1913.1 512h.01M1917.5 512h.01M1921.9 512h.01M1926.2 512h.01M1930.6 512h.01M1940.8 512h.01M1944.9 512h.01M1949.1 512h.01M1958.0 512h.01M1970.2 512h.01M1975.2 512h.01M1980.2 512h.01M2013.1 512h.01M2021.2 512h.01M2031.4 512h.01M2035.7 512h.01M2040.0 512h.01M1840.0 504h.01M1855.3 504h.01M1859.6 504h.01M1863.8 504h.01M1868.1 504h.01M1872.3 504h.01M1926.7 504h.01M1930.5 504h.01M1934.2 504h.01M1946.2 504h.01M1961.1 504h.01M1966.0 504h.01M1970.9 504h.01M1982.5 504H1985.3M2003.3 504h.01M2019.7 504h.01M1850.6 496h.01M1899.4 496h.01M1914.5 496h.01M1918.9 496h.01M1923.2 496h.01M1927.5 496h.01M1942.0 496h.01M1957.7 496h.01M1971.7 496h.01M1975.4 496h.01M1979.1 496h.01M1994.4 496h.01M1997.7 496h.01M2000.9 496h.01M2009.2 496h.01M1882.5 488h.01M1905.3 488h.01M1918.6 488h.01M1957.2 488h.01M2000.9 488h.01M2030.3 488h.01M1840.0 480h.01M1863.4 480h.01M1867.0 480h.01M1870.5 480h.01M1936.9 480h.01M1956.4 480h.01M1960.7 480h.01M1965.0 480h.01M1981.1 480h.01M1995.5 480h.01M1999.1 480h.01M2021.2 480h.01M2040.0 552h.01M2044.2 552h.01M2048.3 552h.01M2052.5 552h.01M2056.7 552h.01M2060.8 552h.01M2065.0 552h.01M2069.2 552h.01M2073.3 552h.01M2077.5 552h.01M2081.7 552h.01M2085.8 552h.01M2090.0 552h.01M2094.2 552h.01M2098.3 552h.01M2102.5 552h.01M2106.7 552h.01M2110.8 552h.01M2115.0 552h.01M2119.2 552h.01M2123.3 552h.01M2127.5 552h.01M2131.7 552h.01M2135.8 552h.01M2140.0 552h.01M2144.2 552h.01M2148.3 552h.01M2152.5 552h.01M2156.7 552h.01M2160.8 552h.01M2165.0 552h.01M2169.2 552h.01M2173.3 552h.01M2177.5 552h.01M2181.7 552h.01M2185.8 552h.01M2190.0 552h.01M2194.2 552h.01M2198.3 552h.01M2202.5 552h.01M2206.7 552h.01M2210.8 552h.01M2215.0 552h.01M2219.2 552h.01M2223.3 552h.01M2227.5 552h.01M2231.7 552h.01M2235.8 552h.01M2240.0 552h.01M2040.0 544h.01M2043.9 544h.01M2047.8 544h.01M2051.7 544h.01M2055.6 544h.01M2059.5 544h.01M2072.8 544h.01M2077.5 544h.01M2082.2 544h.01M2086.9 544h.01M2125.2 544h.01M2130.2 544h.01M2135.3 544h.01M2149.4 544h.01M2168.1 544h.01M2172.7 544h.01M2177.2 544h.01M2181.7 544h.01M2186.2 544h.01M2190.8 544h.01M2205.6 544h.01M2209.9 544h.01M2214.2 544h.01M2227.5 544h.01M2231.7 544h.01M2235.8 544h.01M2240.0 544h.01M2040.0 536h.01M2049.1 536h.01M2053.2 536h.01M2057.4 536h.01M2061.6 536h.01M2065.8 536h.01M2076.2 536h.01M2083.4 536h.01M2087.1 536h.01M2090.8 536h.01M2125.9 536h.01M2130.5 536h.01M2135.0 536h.01M2144.7 536h.01M2154.1 536h.01M2158.8 536h.01M2166.2 536h.01M2179.1 536h.01M2183.0 536h.01M2186.9 536h.01M2190.8 536h.01M2194.7 536h.01M2233.8 536h.01M2240.0 536h.01M2040.0 528h.01M2043.8 528h.01M2047.5 528h.01M2069.4 528h.01M2075.6 528h.01M2086.4 528H2089.2M2130.3 528h.01M2140.8 528h.01M2146.6 528h.01M2156.1 528h.01M2160.6 528h.01M2165.2 528h.01M2169.7 528h.01M2175.9 528h.01M2183.4 528h.01M2187.4 528h.01M2191.5 528h.01M2195.5 528h.01M2222.0 528h.01M2226.5 528h.01M2231.0 528h.01M2235.5 528h.01M2240.0 528h.01M2061.1 520h.01M2071.7 520h.01M2092.0 520h.01M2102.2 520h.01M2113.0 520h.01M2152.2 520h.01M2170.0 520h.01M2218.4 520h.01M2221.8 520h.01M2225.2 520h.01M2040.8 512h.01M2059.5 512h.01M2064.2 512h.01M2068.9 512h.01M2078.0 512H2080.3M2138.9 512h.01M2143.9 512h.01M2162.7 512h.01M2185.3 512h.01M2189.2 512h.01M2196.7 512h.01M2200.9 512h.01M2215.0 512h.01M2219.4 512h.01M2236.4 512h.01M2045.0 504h.01M2091.6 504h.01M2147.8 504h.01M2159.2 504h.01M2179.5 504h.01M2201.7 504h.01M2230.9 504h.01M2058.8 496h.01M2064.2 496h.01M2091.1 496h.01M2140.5 496h.01M2222.0 496h.01M2067.0 488h.01M2081.7 488h.01M2125.2 488h.01M2140.0 488h.01M2163.9 488h.01M2188.1 488h.01M2197.0 488H2199.8M2065.3 480h.01M2125.9 480h.01M2142.8 480h.01M2188.9 480h.01M2223.9 480h.01M2240.0 480h.01M2237.8 552h.01M2241.8 552h.01M2245.9 552h.01M2250.0 552h.01M2254.1 552h.01M2258.2 552h.01M2262.3 552h.01M2266.4 552h.01M2270.4 552h.01M2274.5 552h.01M2278.6 552h.01M2282.7 552h.01M2286.8 552h.01M2290.9 552h.01M2237.8 544h.01M2242.0 544h.01M2246.3 544h.01M2258.4 544h.01M2270.2 544h.01M2274.3 544h.01M2278.3 544h.01M2282.3 544h.01M2292.1 544h.01M2296.3 544h.01M2237.8 536h.01M2241.7 536h.01M2249.8 536h.01M2261.5 536h.01M2265.0 536h.01M2268.5 536h.01M2277.6 536h.01M2283.5 536h.01M2291.7 536h.01M2297.9 536h.01M2237.8 528H2240.1M2248.7 528h.01M2252.0 528h.01M2255.2 528h.01M2264.8 528h.01M2274.5 528h.01M2278.4 528h.01M2282.3 528h.01M2286.2 528h.01M2296.3 528h.01M2259.6 520h.01M2268.5 520h.01M2287.4 520h.01M2292.4 520h.01M2246.3 512h.01M2250.6 512h.01M2254.9 512h.01M2283.8 512h.01M2287.4 512h.01M2290.9 512h.01M2250.2 504h.01M2253.8 504h.01M2257.3 504h.01M2277.6 504h.01M2281.7 504h.01M2285.9 504h.01M2248.4 496h.01M2294.8 496h.01M2247.9 488h.01M2242.9 480h.01M46.2 472h.01M142.7 472h.01M154.8 472h.01M254.5 472h.01M287.7 472H290.0M298.1 472h.01M374.4 472h.01M265.8 464h.01M286.1 464h.01M304.1 464h.01M309.5 464h.01M328.6 464h.01M353.3 464h.01M376.7 464h.01M383.0 464h.01M205.6 456h.01M285.3 456h.01M290.4 456h.01M295.5 456h.01M330.9 456h.01M135.3 448h.01M200.5 448h.01M235.3 448h.01M291.6 448h.01M308.8 448h.01M134.8 440h.01M186.6 440h.01M276.7 440h.01M396.7 440h.01M68.1 424h.01M186.1 424h.01M294.4 416H297.0M285.6 408h.01M293.9 408H295.9M289.7 400H291.2M473.8 472h.01M579.7 472h.01M415.9 464h.01M550.8 464H551.9M579.7 464H581.2M608.9 464h.01M444.1 456h.01M447.4 456h.01M450.8 456h.01M552.7 456h.01M604.4 456h.01M608.1 456h.01M463.0 448h.01M473.9 448h.01M743.8 448h.01M448.4 440h.01M473.1 440h.01M489.8 440h.01M493.0 440h.01M528.1 440h.01M606.7 440h.01M444.5 432h.01M448.3 432h.01M452.0 432h.01M533.9 432h.01M543.4 432h.01M407.0 424h.01M489.8 424h.01M508.1 424h.01M512.8 424h.01M413.6 416h.01M588.3 416h.01M507.0 408h.01M511.2 408h.01M410.6 392h.01M516.4 392h.01M416.9 384h.01M921.2 472H923.8M875.9 464h.01M972.0 464h.01M880.0 448h.01M806.9 440h.01M843.1 440h.01M886.1 432h.01M936.9 400h.01M1209.8 472h.01M1446.9 472h.01M1478.6 472h.01M1429.4 456h.01M1441.4 456h.01M1450.0 448h.01M1458.3 448h.01M1448.1 440h.01M1453.3 440h.01M1476.2 440h.01M1480.0 440h.01M1455.9 432h.01M1489.1 472h.01M1493.3 472h.01M1524.1 472h.01M1532.3 472h.01M1538.6 472h.01M1608.1 472h.01M1611.6 472h.01M1615.2 472h.01M1658.9 472h.01M1730.8 472h.01M1737.0 472h.01M1796.9 472h.01M1501.6 464h.01M1518.0 464h.01M1547.5 464h.01M1765.5 464h.01M1825.6 464h.01M1600.8 456h.01M1840.0 456h.01M1485.0 448h.01M1498.8 448h.01M1504.5 448h.01M1757.8 448h.01M1577.2 440h.01M1487.0 424h.01M1648.0 424h.01M1758.1 424h.01M1556.1 416h.01M1728.8 416h.01M1824.8 400h.01M1909.8 472h.01M1954.5 472h.01M1975.6 472h.01M2005.6 472h.01M2141.6 472H2143.9M2153.3 472h.01M2170.8 472h.01M2123.3 464h.01M1865.0 456h.01M1874.4 456h.01M1960.0 456h.01M1974.7 456h.01M2150.6 456h.01M2178.8 456h.01M2183.0 456h.01M1982.2 448h.01M2013.0 448h.01M2081.1 448h.01M2161.9 448h.01M2166.9 448h.01M2195.0 448h.01M2158.0 440h.01M2192.3 440h.01M1919.7 400h.01M2176.2 384h.01M2220.9 472h.01M2230.4 472h.01M2249.0 472h.01M2252.9 472h.01M2260.7 472h.01M2269.5 472h.01M2290.9 472h.01M2294.5 472h.01M2217.8 464h.01M2206.7 456h.01M2277.1 456h.01M2281.5 456h.01M2216.7 440h.01M2263.1 440h.01M2267.4 440h.01M2287.0 440h.01M2212.9 432h.01M2201.8 424h.01M2231.8 424H2234.3M2295.1 424h.01M2274.9 384h.01M45.2 176h.01M586.9 224h.01M588.3 224h.01M449.0 304h.01M293.3 352h.01M296.8 352h.01M378.6 368h.01M411.6 368h.01M488.6 360h.01M586.6 368h.01M2208.0 328h.01M2226.9 352h.01M2253.7 360h.01"/>
</svg>
<p class="cap">Ruleset sizes, showing the first ruleset in the CSS on the left and the last item on the right.</p>
</body></html>
